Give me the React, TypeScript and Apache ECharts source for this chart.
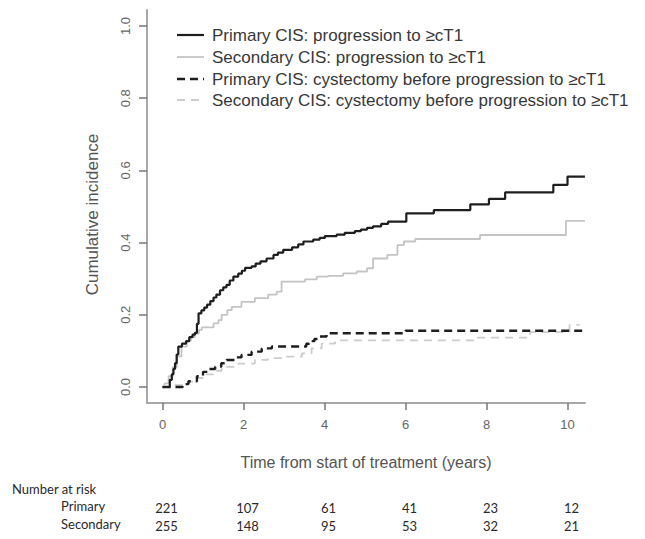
import React, { useEffect, useRef } from "react";
import * as echarts from "echarts";

const timeTicks = [0, 2, 4, 6, 8, 10];
const incidenceTicks = [0, 0.2, 0.4, 0.6, 0.8, 1.0];
const riskPrimary = [221, 107, 61, 41, 23, 12];
const riskSecondary = [255, 148, 95, 53, 32, 21];

const seriesNames = [
  "Primary CIS: progression to \u2265cT1",
  "Secondary CIS: progression to \u2265cT1",
  "Primary CIS: cystectomy before progression to \u2265cT1",
  "Secondary CIS: cystectomy before progression to \u2265cT1",
];

const primaryProgression = [
  [0, 0], [0.12, 0], [0.18, 0.02], [0.23, 0.035], [0.27, 0.05], [0.31, 0.066], [0.35, 0.09],
  [0.39, 0.112], [0.48, 0.12], [0.58, 0.127], [0.66, 0.138], [0.74, 0.145], [0.8, 0.15],
  [0.85, 0.175], [0.89, 0.204], [0.96, 0.212], [1.03, 0.22], [1.1, 0.228], [1.18, 0.238],
  [1.26, 0.248], [1.33, 0.256], [1.42, 0.268], [1.5, 0.276], [1.58, 0.283], [1.66, 0.295],
  [1.75, 0.306], [1.87, 0.314], [1.96, 0.322], [2.04, 0.33], [2.2, 0.334], [2.3, 0.342],
  [2.42, 0.348], [2.57, 0.356], [2.74, 0.366], [2.85, 0.372], [2.98, 0.38], [3.2, 0.387],
  [3.35, 0.395], [3.48, 0.403], [3.72, 0.408], [3.88, 0.413], [4.01, 0.418], [4.3, 0.422],
  [4.5, 0.427], [4.75, 0.432], [4.9, 0.436], [5.05, 0.441], [5.2, 0.445], [5.4, 0.452],
  [5.57, 0.458], [6.02, 0.481], [6.7, 0.49], [7.6, 0.506], [8.06, 0.521], [8.46, 0.539],
  [9.65, 0.56], [10.0, 0.583], [10.43, 0.583],
];

const secondaryProgression = [
  [0, 0], [0.05, 0.01], [0.15, 0.03], [0.25, 0.055], [0.35, 0.085], [0.47, 0.112], [0.6, 0.128],
  [0.7, 0.138], [0.8, 0.148], [0.9, 0.158], [0.97, 0.165], [1.26, 0.176], [1.38, 0.185],
  [1.46, 0.2], [1.6, 0.213], [1.71, 0.222], [1.95, 0.236], [2.28, 0.246], [2.61, 0.256],
  [2.82, 0.264], [2.94, 0.292], [3.52, 0.298], [3.81, 0.306], [4.09, 0.308], [4.46, 0.315],
  [4.8, 0.32], [5.05, 0.329], [5.2, 0.356], [5.55, 0.366], [5.8, 0.393], [5.96, 0.403],
  [6.24, 0.41], [7.84, 0.421], [9.96, 0.46], [10.43, 0.46],
];

const primaryCystectomy = [
  [0, 0], [0.3, 0], [0.5, 0.008], [0.64, 0.016], [0.85, 0.03], [1.0, 0.042], [1.15, 0.05],
  [1.3, 0.056], [1.45, 0.066], [1.58, 0.075], [1.8, 0.082], [1.95, 0.089], [2.2, 0.098],
  [2.45, 0.107], [2.7, 0.112], [3.55, 0.12], [3.62, 0.127], [3.75, 0.133], [3.85, 0.14],
  [4.05, 0.149], [6.0, 0.156], [10.43, 0.156],
];

const secondaryCystectomy = [
  [0, 0], [0.3, 0.005], [0.64, 0.015], [0.85, 0.025], [1.05, 0.035], [1.25, 0.045],
  [1.46, 0.056], [1.87, 0.065], [2.28, 0.075], [2.6, 0.08], [2.94, 0.084], [3.44, 0.093],
  [3.68, 0.107], [3.93, 0.12], [4.26, 0.129], [7.75, 0.137], [9.08, 0.152], [10.05, 0.172],
  [10.3, 0.172],
];

const FONT = "'Liberation Sans', Arial, sans-serif";
const TABLE_FONT = "Lato, 'Open Sans', sans-serif";

const lineStyles = [
  { color: "#1e1e1e", width: 2.2, dash: null as number[] | null },
  { color: "#c4c4c4", width: 1.8, dash: null as number[] | null },
  { color: "#1e1e1e", width: 2.4, dash: [8, 5] },
  { color: "#cccccc", width: 1.8, dash: [8, 6] },
];

export default function App() {
  const ref = useRef<HTMLDivElement>(null);

  useEffect(() => {
    if (!ref.current) return;
    const chart = echarts.init(ref.current, undefined, { renderer: "svg" });

    const xMin = -0.383;
    const xMax = 10.432;

    const riskAxis = (values: number[], offset: number) => ({
      type: "value",
      position: "bottom",
      gridIndex: 0,
      min: xMin,
      max: xMax,
      offset,
      axisLine: { show: false },
      axisTick: { show: false },
      splitLine: { show: false },
      axisLabel: {
        customValues: timeTicks,
        margin: 8,
        fontFamily: TABLE_FONT,
        fontSize: 13,
        color: "#2a2a2a",
        padding: [0, 0, 0, 8],
        formatter: (v: number) => {
          const i = timeTicks.indexOf(Math.round(v));
          return i >= 0 ? String(values[i]) : "";
        },
      },
    });

    const legendRows = [35, 57, 79, 100];
    const legendGraphics: any[] = [];
    seriesNames.forEach((name, i) => {
      const ls = lineStyles[i];
      legendGraphics.push({
        type: "line",
        shape: { x1: 177, y1: legendRows[i], x2: 204, y2: legendRows[i] },
        style: { stroke: ls.color, lineWidth: ls.width, lineDash: ls.dash || undefined },
      });
      legendGraphics.push({
        type: "text",
        x: 212,
        y: legendRows[i],
        style: {
          text: name,
          font: `17px ${FONT}`,
          fill: "#383838",
          verticalAlign: "middle",
          align: "left",
        },
      });
    });

    chart.setOption({
      animation: false,
      backgroundColor: "#ffffff",
      grid: { left: 147, right: 60, top: 10, bottom: 136, containLabel: false },
      xAxis: [
        {
          type: "value",
          min: xMin,
          max: xMax,
          name: "Time from start of treatment (years)",
          nameLocation: "middle",
          nameGap: 51,
          nameTextStyle: { fontFamily: FONT, fontSize: 16, color: "#555" },
          axisLine: { show: true, onZero: false, lineStyle: { color: "#a8a8a8", width: 2 } },
          axisTick: { show: true, customValues: timeTicks, length: 7, lineStyle: { color: "#777", width: 1.5 } },
          axisLabel: {
            customValues: timeTicks,
            margin: 15,
            fontFamily: FONT,
            fontSize: 13,
            color: "#666",
          },
          splitLine: { show: false },
        },
        riskAxis(riskPrimary, 90),
        riskAxis(riskSecondary, 108),
      ],
      yAxis: {
        type: "value",
        min: -0.0443,
        max: 1.0443,
        name: "Cumulative incidence",
        nameLocation: "middle",
        nameRotate: 90,
        nameGap: 46,
        nameTextStyle: { fontFamily: FONT, fontSize: 17, color: "#555", padding: [0, 16, 0, 0] },
        axisLine: { show: true, onZero: false, lineStyle: { color: "#a8a8a8", width: 2 } },
        axisTick: { show: true, customValues: incidenceTicks, length: 8, lineStyle: { color: "#777", width: 1.5 } },
        axisLabel: {
          customValues: incidenceTicks,
          rotate: 90,
          margin: 15,
          fontFamily: FONT,
          fontSize: 13,
          color: "#666",
          formatter: (v: number) => v.toFixed(1),
        },
        splitLine: { show: false },
      },
      graphic: [
        ...legendGraphics,
        { type: "text", left: 12, top: 482, style: { text: "Number at risk", font: `13px ${TABLE_FONT}`, fill: "#2a2a2a" } },
        { type: "text", left: 61, top: 499, style: { text: "Primary", font: `13px ${TABLE_FONT}`, fill: "#2a2a2a" } },
        { type: "text", left: 61, top: 517, style: { text: "Secondary", font: `13px ${TABLE_FONT}`, fill: "#2a2a2a" } },
      ],
      series: [primaryProgression, secondaryProgression, primaryCystectomy, secondaryCystectomy].map(
        (data, i) => ({
          name: seriesNames[i],
          type: "line",
          step: "end",
          showSymbol: false,
          symbol: "none",
          data,
          lineStyle: {
            color: lineStyles[i].color,
            width: lineStyles[i].width,
            type: lineStyles[i].dash || "solid",
          },
          itemStyle: { color: lineStyles[i].color },
          z: 5 - i,
        })
      ),
    });

    return () => chart.dispose();
  }, []);

  return (
    <div
      ref={ref}
      style={{ position: "absolute", left: 0, top: 0, width: 645, height: 539, background: "#fff" }}
    />
  );
}
